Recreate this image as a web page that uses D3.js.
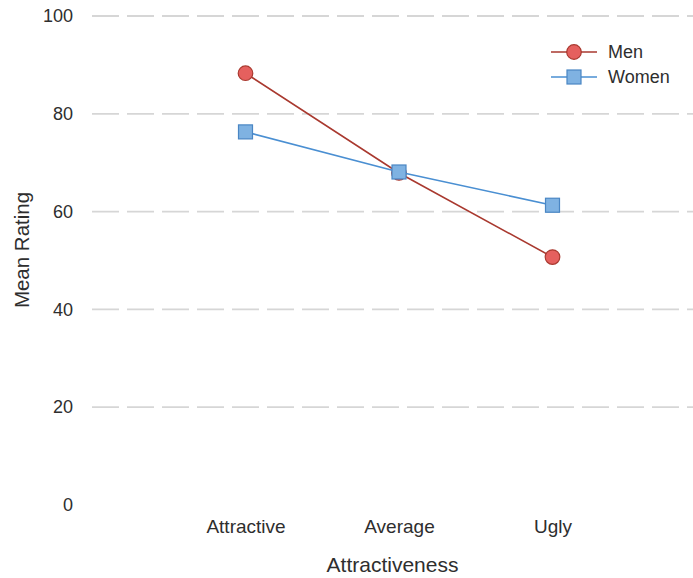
<!DOCTYPE html>
<html>
<head>
<meta charset="utf-8">
<script src="https://cdn.jsdelivr.net/npm/d3@7"></script>
<style>
  html, body { margin: 0; padding: 0; background: #fff; }
  svg { display: block; font-family: "Liberation Sans", Arial, Helvetica, sans-serif; }
</style>
</head>
<body>
<svg id="chart" width="693" height="578"></svg>
<script>
const categories = ["Attractive", "Average", "Ugly"];
const menValues = [88.3, 67.9, 50.7];
const womenValues = [76.3, 68.1, 61.3];
const seriesNames = ["Men", "Women"];
const yTicks = [0, 20, 40, 60, 80, 100];
const xTitle = "Attractiveness";
const yTitle = "Mean Rating";

const svg = d3.select("#chart");
const x = d3.scalePoint().domain(categories).range([92, 706]).padding(1);
const y = d3.scaleLinear().domain([0, 100]).range([505, 16]);
const FONT = "Liberation Sans, Arial, sans-serif";
const TXT = "#2e2e2e";

// gridlines
const grid = svg.append("g");
grid.selectAll("line").data(yTicks.filter(d => d > 0)).join("line")
  .attr("x1", 92).attr("x2", 693)
  .attr("y1", d => y(d)).attr("y2", d => y(d))
  .attr("stroke", "#d6d6d6").attr("stroke-width", 1.8)
  .attr("stroke-dasharray", "27,8");

// y axis
const yAxis = d3.axisLeft(y).tickValues(yTicks).tickSize(0).tickPadding(0);
const yg = svg.append("g").attr("transform", "translate(73,0)").call(yAxis);
yg.select(".domain").remove();
yg.selectAll("text").attr("font-size", 18).attr("fill", TXT).attr("font-family", FONT);

// x axis
const xAxis = d3.axisBottom(x).tickSize(0).tickPadding(0);
const xg = svg.append("g").attr("transform", "translate(0,519.5)").call(xAxis);
xg.select(".domain").remove();
xg.selectAll("text").attr("font-size", 19).attr("fill", TXT).attr("font-family", FONT);

// titles
svg.append("text").attr("x", 392.5).attr("y", 572).attr("text-anchor", "middle")
  .attr("font-size", 21).attr("fill", TXT).text(xTitle);
svg.append("text").attr("transform", "translate(29,250) rotate(-90)").attr("text-anchor", "middle")
  .attr("font-size", 20.5).attr("fill", TXT).text(yTitle);

const menColor = { line: "#a9392f", fill: "#e5605e", stroke: "#a9392f" };
const womenColor = { line: "#4a8fd2", fill: "#7fb2e2", stroke: "#4a86c4" };

const line = d3.line().x((d, i) => x(categories[i])).y(d => y(d));

// Men
svg.append("path").datum(menValues).attr("d", line)
  .attr("fill", "none").attr("stroke", menColor.line).attr("stroke-width", 1.6);
svg.append("g").selectAll("circle").data(menValues).join("circle")
  .attr("cx", (d, i) => x(categories[i])).attr("cy", d => y(d)).attr("r", 7.3)
  .attr("fill", menColor.fill).attr("stroke", menColor.stroke).attr("stroke-width", 1.2);

// Women
svg.append("path").datum(womenValues).attr("d", line)
  .attr("fill", "none").attr("stroke", womenColor.line).attr("stroke-width", 1.6);
svg.append("g").selectAll("rect").data(womenValues).join("rect")
  .attr("x", (d, i) => x(categories[i]) - 7).attr("y", d => y(d) - 7)
  .attr("width", 14).attr("height", 14)
  .attr("fill", womenColor.fill).attr("stroke", womenColor.stroke).attr("stroke-width", 1.2);

// legend
const legend = svg.append("g");
const lg = [{ name: seriesNames[0], c: menColor, shape: "circle", y: 52 },
            { name: seriesNames[1], c: womenColor, shape: "rect", y: 77 }];
lg.forEach(s => {
  legend.append("line").attr("x1", 551).attr("x2", 597).attr("y1", s.y).attr("y2", s.y)
    .attr("stroke", s.c.line).attr("stroke-width", 1.6);
  if (s.shape === "circle") {
    legend.append("circle").attr("cx", 574).attr("cy", s.y).attr("r", 7.3)
      .attr("fill", s.c.fill).attr("stroke", s.c.stroke).attr("stroke-width", 1.2);
  } else {
    legend.append("rect").attr("x", 567).attr("y", s.y - 7).attr("width", 14).attr("height", 14)
      .attr("fill", s.c.fill).attr("stroke", s.c.stroke).attr("stroke-width", 1.2);
  }
  legend.append("text").attr("x", 608).attr("y", s.y + 6).attr("font-size", 18)
    .attr("fill", TXT).text(s.name);
});
</script>
</body>
</html>
